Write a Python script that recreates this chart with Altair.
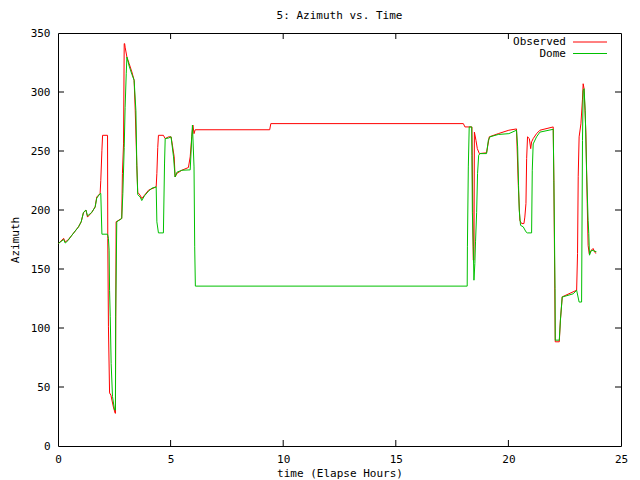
import altair as alt
import pandas as pd

# ---- data ----
obs_hours = [0.02, 0.25, 0.32, 0.44, 0.62, 0.91, 1.03, 1.13, 1.24, 1.31, 1.50, 1.65, 1.72, 1.87,
             1.90, 1.95, 1.98, 2.20, 2.21, 2.24, 2.29, 2.35, 2.46, 2.54, 2.55, 2.58, 2.83, 2.86,
             2.91, 2.94, 2.96, 2.98, 3.06, 3.16, 3.28, 3.38, 3.43, 3.50, 3.54, 3.65, 3.72, 3.84,
             4.02, 4.17, 4.36, 4.39, 4.43, 4.46, 4.68, 4.76, 4.91, 5.02, 5.08, 5.16, 5.20, 5.28,
             5.50, 5.79, 5.87, 5.94, 5.99, 6.04, 6.09, 9.40, 9.45, 18.00, 18.07, 18.37, 18.38,
             18.44, 18.47, 18.49, 18.56, 18.62, 18.71, 19.03, 19.15, 19.55, 20.02, 20.36, 20.44,
             20.51, 20.59, 20.69, 20.73, 20.78, 20.81, 20.85, 20.93, 20.99, 21.03, 21.10, 21.25,
             21.40, 21.99, 22.02, 22.08, 22.26, 22.31, 22.39, 23.03, 23.07, 23.10, 23.14, 23.22,
             23.29, 23.32, 23.36, 23.44, 23.50, 23.54, 23.59, 23.69, 23.76, 23.81, 23.88]
obs_az = [171.6, 176.0, 173.0, 174.5, 178.7, 185.7, 190.0, 197.6, 200.0, 194.0, 198.0, 202.6, 211.0, 214.0,
          225.0, 250.6, 263.3, 263.3, 176.0, 101.0, 45.0, 43.0, 33.0, 27.7, 27.7, 190.0, 192.8, 230.9,
          256.0, 341.0, 341.0, 338.0, 329.6, 324.0, 317.0, 310.0, 284.0, 238.0, 215.0, 212.5, 209.7, 212.5,
          216.8, 218.0, 219.6, 231.0, 253.0, 263.3, 263.3, 260.5, 262.0, 262.0, 255.0, 245.0, 228.0, 231.0,
          233.7, 236.0, 245.0, 262.0, 272.0, 264.7, 268.0, 268.0, 273.2, 273.2, 270.4, 270.4, 270.4,
          157.5, 157.5, 266.0, 259.0, 252.0, 247.8, 248.5, 262.0, 264.7, 267.6, 268.7, 221.0,
          191.0, 188.5, 188.5, 194.0, 205.5, 243.6, 262.0, 260.5, 252.0, 257.7, 260.5, 264.7,
          267.6, 270.4, 223.6, 88.3, 88.3, 106.7, 126.4, 132.0, 163.0, 228.6, 262.0, 273.0,
          294.0, 307.0, 302.8, 266.0, 205.5, 170.0, 163.0, 166.0, 167.4, 165.4, 163.1]

dome_hours = [0.02, 0.25, 0.32, 0.44, 0.62, 0.91, 1.03, 1.13, 1.24, 1.31, 1.50, 1.65, 1.72, 1.87,
              1.90, 1.95, 2.20, 2.24, 2.27, 2.29, 2.32, 2.36, 2.42, 2.51, 2.55, 2.56, 2.61, 2.83,
              2.88, 2.94, 2.98, 3.03, 3.06, 3.16, 3.28, 3.38, 3.46, 3.50, 3.54, 3.65, 3.72, 3.84,
              4.02, 4.17, 4.36, 4.39, 4.46, 4.68, 4.73, 4.76, 4.91, 5.02, 5.13, 5.20, 5.28, 5.50,
              5.87, 5.94, 5.97, 6.04, 6.07, 6.10, 18.17, 18.18, 18.22, 18.26, 18.37, 18.38, 18.40,
              18.44, 18.47, 18.51, 18.54, 18.59, 18.63, 18.68, 18.74, 19.03, 19.11, 19.18, 19.55,
              20.02, 20.36, 20.41, 20.45, 20.48, 20.54, 20.66, 20.78, 20.84, 21.03, 21.06, 21.10,
              21.25, 21.40, 21.99, 22.02, 22.07, 22.08, 22.26, 22.31, 22.39, 22.42, 22.88, 23.03,
              23.14, 23.25, 23.29, 23.32, 23.36, 23.41, 23.47, 23.54, 23.57, 23.60, 23.69, 23.91]
dome_az = [171.6, 175.0, 172.0, 174.0, 178.7, 185.7, 190.0, 198.0, 200.0, 195.0, 198.0, 202.6, 210.0, 214.0,
           214.0, 179.5, 179.5, 176.0, 166.0, 132.0, 109.5, 70.0, 42.0, 30.5, 30.5, 109.5, 190.0, 192.8,
           214.0, 253.0, 287.0, 315.5, 329.6, 322.0, 315.0, 310.0, 284.0, 238.0, 213.0, 211.0, 208.0, 212.0,
           216.0, 218.5, 219.6, 190.0, 180.6, 180.6, 239.0, 260.5, 261.0, 262.0, 245.0, 228.0, 232.0, 233.7,
           234.0, 262.0, 272.0, 236.5, 168.8, 135.5, 135.5, 168.8, 236.5, 270.4, 270.4, 246.0, 198.0,
           169.0, 140.5, 154.7, 173.0, 198.0, 231.0, 246.4, 247.8, 247.8, 259.0, 262.0, 264.0,
           264.7, 267.6, 253.5, 221.0, 200.0, 187.0, 185.7, 181.5, 180.6, 180.6, 233.7, 256.0,
           262.0, 266.0, 268.4, 225.0, 133.5, 89.7, 89.7, 106.7, 126.4, 126.4, 129.0, 132.0,
           122.0, 122.0, 259.0, 301.0, 302.8, 284.5, 233.7, 191.0, 180.0, 161.7, 166.0, 164.6]

x_labels = [0, 5, 10, 15, 20, 25]
y_labels = [0, 50, 100, 150, 200, 250, 300, 350]
x_ticks = [5, 10, 15, 20]
y_ticks = [50, 100, 150, 200, 250, 300]
series_names = ["Observed", "Dome"]
series_colors = ["#ff0000", "#00c000"]
title_text = ["5: Azimuth vs. Time"]

FONT = "DejaVu Sans Mono"
FS = 11
W, H = 563, 413
TK = 6

obs = pd.DataFrame({"hour": obs_hours, "az": obs_az, "i": range(len(obs_hours))})
dome = pd.DataFrame({"hour": dome_hours, "az": dome_az, "i": range(len(dome_hours))})
xt = pd.DataFrame({"hour": x_ticks})
yt = pd.DataFrame({"az": y_ticks})

xs = alt.Scale(domain=[0, 25], nice=False, zero=False)
ys = alt.Scale(domain=[0, 350], nice=False, zero=False)

xaxis = alt.Axis(values=x_labels, title="time (Elapse Hours)", grid=False, tickSize=0,
                 domain=False, labelPadding=7, titlePadding=3, labelFlush=False,
                 labelFont=FONT, labelFontSize=FS, titleFont=FONT, titleFontSize=FS,
                 titleFontWeight="normal", labelColor="black", titleColor="black")
yaxis = alt.Axis(values=y_labels, title="Azimuth", grid=False, tickSize=0,
                 domain=False, labelPadding=8, titlePadding=10, labelFlush=False,
                 labelFont=FONT, labelFontSize=FS, titleFont=FONT, titleFontSize=FS,
                 titleFontWeight="normal", labelColor="black", titleColor="black")

X = alt.X("hour:Q", scale=xs, axis=xaxis)
Y = alt.Y("az:Q", scale=ys, axis=yaxis)

red = alt.Chart(obs).mark_line(color=series_colors[0], strokeWidth=1).encode(
    x=X, y=Y, order="i:Q")
green = alt.Chart(dome).mark_line(color=series_colors[1], strokeWidth=1).encode(
    x=X, y=Y, order="i:Q")

tick_b = alt.Chart(xt).mark_rule(color="black", strokeWidth=1).encode(
    x=X, y=alt.value(H), y2=alt.value(H - TK))
tick_t = alt.Chart(xt).mark_rule(color="black", strokeWidth=1).encode(
    x=X, y=alt.value(0), y2=alt.value(TK))
tick_l = alt.Chart(yt).mark_rule(color="black", strokeWidth=1).encode(
    y=Y, x=alt.value(0), x2=alt.value(TK))
tick_r = alt.Chart(yt).mark_rule(color="black", strokeWidth=1).encode(
    y=Y, x=alt.value(W), x2=alt.value(W - TK))

title_layer = alt.Chart(pd.DataFrame({"t": title_text})).mark_text(
    align="center", baseline="middle", font=FONT, fontSize=FS, color="black"
).encode(text="t:N", x=alt.value(W / 2), y=alt.value(-17))

legend_layers = []
for k, (name, col) in enumerate(zip(series_names, series_colors)):
    ly = 9 + 11.5 * k
    legend_layers.append(
        alt.Chart(pd.DataFrame({"label": [name]})).mark_text(
            align="right", baseline="middle", font=FONT, fontSize=FS, color="black"
        ).encode(text="label:N", x=alt.value(508), y=alt.value(ly))
    )
    legend_layers.append(
        alt.Chart(pd.DataFrame({"label": [name]})).mark_rule(color=col, strokeWidth=1).encode(
            x=alt.value(515), x2=alt.value(549), y=alt.value(ly))
    )

chart = alt.layer(red, green, tick_b, tick_t, tick_l, tick_r, title_layer, *legend_layers).properties(
    width=W, height=H,
    autosize=alt.AutoSizeParams(type="none"),
    padding={"left": 50, "top": 25, "right": 10, "bottom": 34},
    background="white",
).configure_view(stroke="black", strokeWidth=1)

chart.save("out.html", embed_options={"renderer": "svg", "actions": False})
